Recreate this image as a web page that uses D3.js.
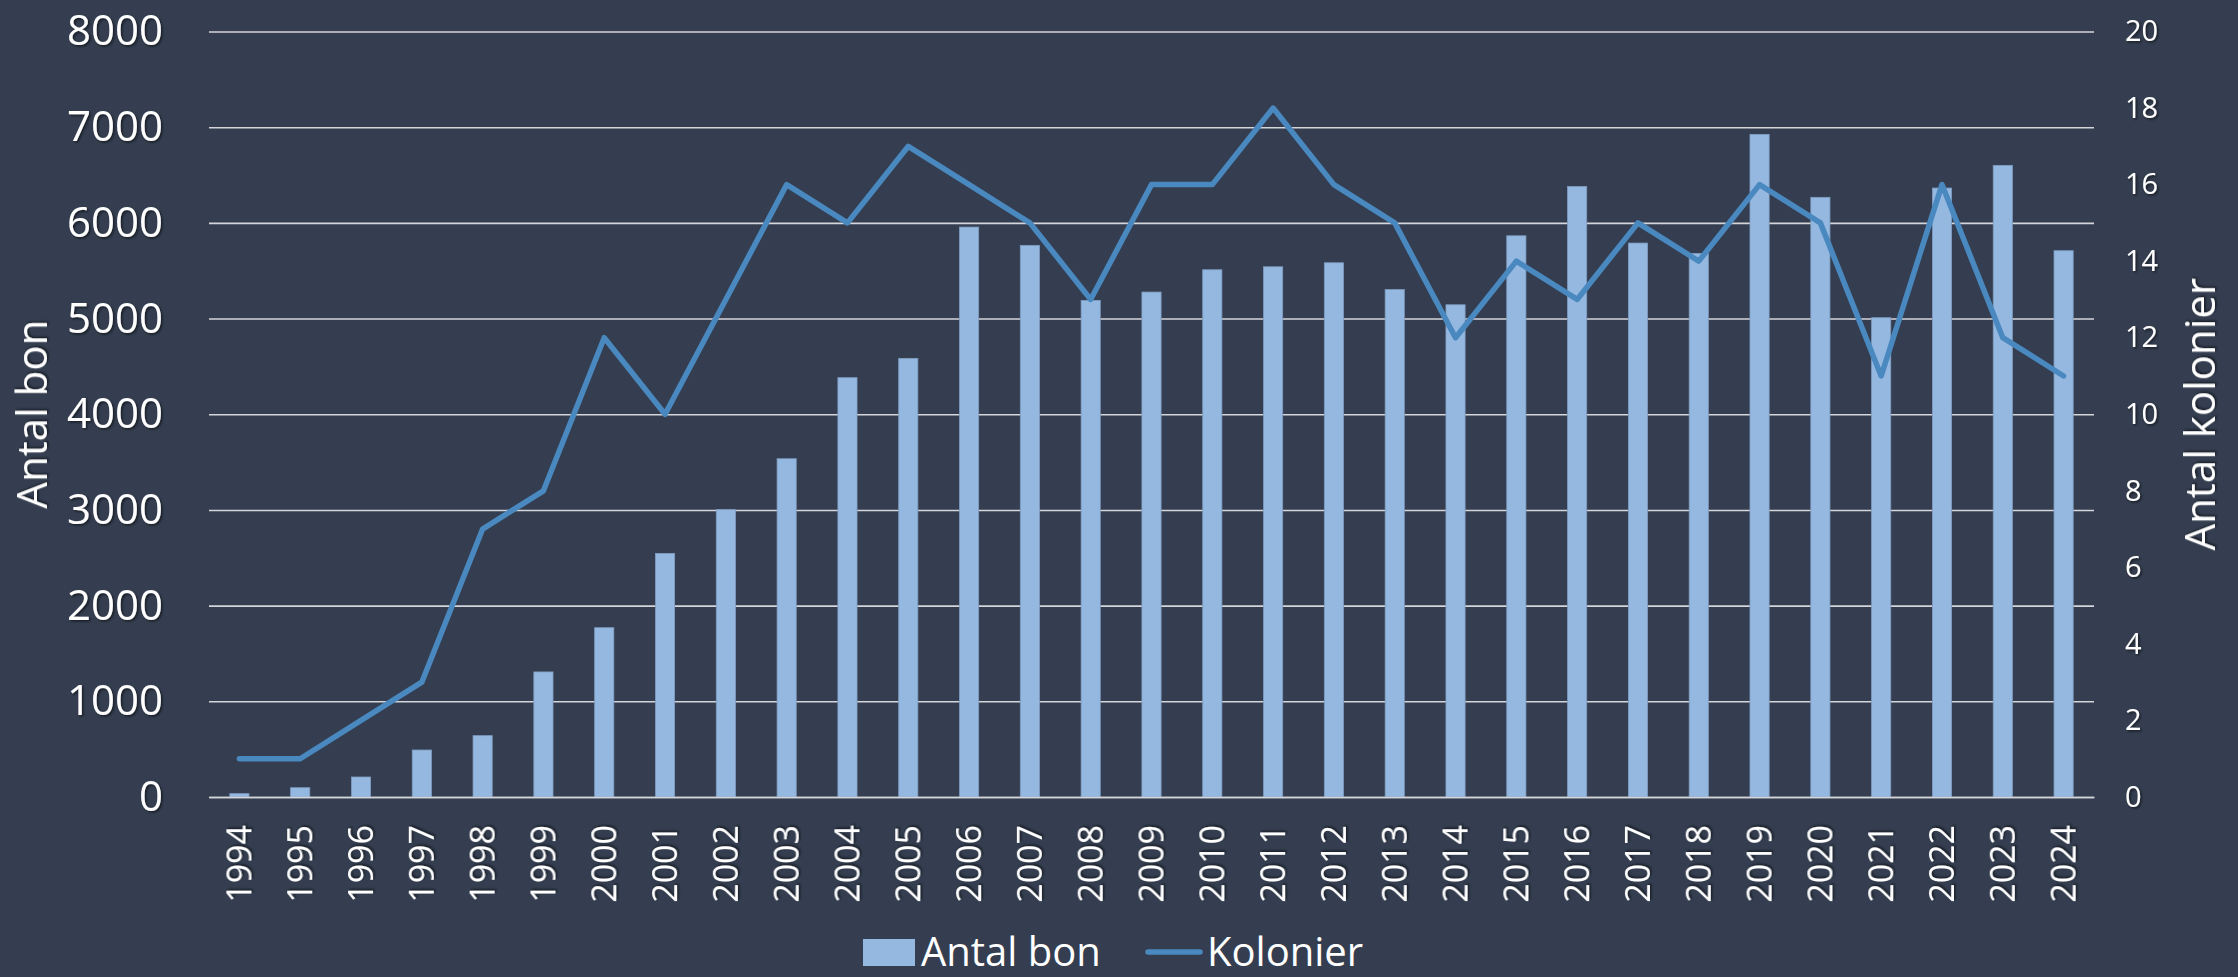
<!DOCTYPE html>
<html lang="sv">
<head>
<meta charset="utf-8">
<title>Antal bon och kolonier 1994–2024</title>
<script src="https://cdn.jsdelivr.net/npm/d3@7"></script>
<style>
  html, body { margin: 0; padding: 0; background: #343e50; }
  svg { display: block; }
  text { font-family: 'Open Sans', 'Noto Sans', sans-serif; fill: #ffffff; }
</style>
</head>
<body>
<svg id="chart"></svg>
<script>
'use strict';

// ── Data ──────────────────────────────────────────────────────────────────
const years    = ['1994','1995','1996','1997','1998','1999','2000','2001','2002','2003',
                  '2004','2005','2006','2007','2008','2009','2010','2011','2012','2013',
                  '2014','2015','2016','2017','2018','2019','2020','2021','2022','2023','2024'];
const antalBon = [35, 97, 209, 491, 641, 1307, 1769, 2546, 3003, 3535,
                  4382, 4584, 5956, 5765, 5190, 5277, 5510, 5541, 5583, 5303,
                  5144, 5865, 6381, 5789, 5681, 6925, 6267, 5009, 6364, 6601, 5709];
const kolonier = [1, 1, 2, 3, 7, 8, 12, 10, 13, 16,
                  15, 17, 16, 15, 13, 16, 16, 18, 16, 15,
                  12, 14, 13, 15, 14, 16, 15, 11, 16, 12, 11];
const leftTicks  = [0, 1000, 2000, 3000, 4000, 5000, 6000, 7000, 8000];
const rightTicks = [0, 2, 4, 6, 8, 10, 12, 14, 16, 18, 20];

(function () {
  const W = 2238, H = 977;
  const M = { left: 209, right: 2094, top: 31.5, bottom: 797 };

  const BAR_FILL  = '#95b8e0';
  const LINE_COL  = '#4a88c0';
  const GRID_COL  = '#d4d6da';

  const svg = d3.select('#chart').attr('width', W).attr('height', H);

  svg.append('rect').attr('width', W).attr('height', H).attr('fill', '#343e50');

  // soft text shadow like the office export
  const defs = svg.append('defs');
  defs.append('filter').attr('id', 'shadow')
    .attr('x', '-20%').attr('y', '-20%').attr('width', '140%').attr('height', '140%')
    .append('feDropShadow')
      .attr('dx', 1.5).attr('dy', 1.5).attr('stdDeviation', 1)
      .attr('flood-color', '#000').attr('flood-opacity', 0.55);

  // ── Scales ──────────────────────────────────────────────────────────────
  const x = d3.scaleBand().domain(years).range([M.left, M.right]).padding(0);
  const yL = d3.scaleLinear().domain([0, 8000]).range([M.bottom, M.top]);
  const yR = d3.scaleLinear().domain([0, 20]).range([M.bottom, M.top]);
  const barW = x.bandwidth() * 0.315;

  // ── Gridlines ───────────────────────────────────────────────────────────
  svg.append('g')
    .attr('transform', `translate(${M.left},0)`)
    .call(d3.axisLeft(yL).tickValues(leftTicks).tickSize(-(M.right - M.left)).tickFormat(''))
    .call(ax => ax.select('.domain').remove())
    .call(ax => ax.selectAll('line').attr('stroke', GRID_COL).attr('stroke-width', 1.6));

  // ── Bars ────────────────────────────────────────────────────────────────
  svg.append('g').selectAll('rect')
    .data(years)
    .join('rect')
      .attr('x', d => x(d) + x.bandwidth() / 2 - barW / 2)
      .attr('width', barW)
      .attr('y', (d, i) => yL(antalBon[i]))
      .attr('height', (d, i) => yL(0) - yL(antalBon[i]))
      .attr('fill', BAR_FILL)
      .attr('stroke', '#7f9dc2')
      .attr('stroke-width', 0.8);

  // ── Line ────────────────────────────────────────────────────────────────
  const line = d3.line()
    .x((d, i) => x(years[i]) + x.bandwidth() / 2)
    .y(d => yR(d));

  svg.append('path')
    .datum(kolonier)
    .attr('d', line)
    .attr('fill', 'none')
    .attr('stroke', LINE_COL)
    .attr('stroke-width', 5.5)
    .attr('stroke-linecap', 'round')
    .attr('stroke-linejoin', 'round');

  // ── Axes labels ─────────────────────────────────────────────────────────
  const leftAxis = svg.append('g')
    .attr('transform', `translate(${M.left},0)`)
    .call(d3.axisLeft(yL).tickValues(leftTicks).tickSize(0).tickPadding(46).tickFormat(d3.format('d')))
    .call(ax => ax.select('.domain').remove());
  leftAxis.selectAll('text')
    .attr('font-size', '42px').attr('font-family', null).attr('fill', '#fff')
    .attr('filter', 'url(#shadow)');

  const rightAxis = svg.append('g')
    .attr('transform', `translate(${M.right},0)`)
    .call(d3.axisRight(yR).tickValues(rightTicks).tickSize(0).tickPadding(31))
    .call(ax => ax.select('.domain').remove());
  rightAxis.selectAll('text')
    .attr('font-size', '29px').attr('font-family', null).attr('fill', '#fff')
    .attr('filter', 'url(#shadow)');

  const bottomAxis = svg.append('g')
    .attr('transform', `translate(0,${M.bottom})`)
    .call(d3.axisBottom(x).tickSize(0).tickPadding(0))
    .call(ax => ax.select('.domain')
      .attr('stroke', GRID_COL).attr('stroke-width', 1.6));
  bottomAxis.selectAll('text')
    .attr('font-size', '34px').attr('font-family', null).attr('fill', '#fff')
    .attr('text-anchor', 'end')
    .attr('dy', null)
    .attr('transform', 'translate(12,28) rotate(-90)')
    .attr('x', 0).attr('y', 0)
    .attr('filter', 'url(#shadow)');

  // ── Axis titles ─────────────────────────────────────────────────────────
  svg.append('text')
    .attr('transform', `translate(47,${(M.top + M.bottom) / 2}) rotate(-90)`)
    .attr('text-anchor', 'middle')
    .attr('font-size', '42px')
    .attr('filter', 'url(#shadow)')
    .text('Antal bon');

  svg.append('text')
    .attr('transform', `translate(2215,${(M.top + M.bottom) / 2}) rotate(-90)`)
    .attr('text-anchor', 'middle')
    .attr('font-size', '42px')
    .attr('filter', 'url(#shadow)')
    .text('Antal kolonier');

  // ── Legend ──────────────────────────────────────────────────────────────
  // kept a few px above the bottom edge so the text box is not cut
  const LEG_Y = 966;
  const lg = svg.append('g').attr('class', 'legend');
  lg.append('rect')
    .attr('x', 863).attr('y', LEG_Y - 27).attr('width', 52).attr('height', 27)
    .attr('fill', BAR_FILL);
  lg.append('text')
    .attr('x', 921).attr('y', LEG_Y)
    .attr('font-size', '40px')
    .text('Antal bon');
  lg.append('line')
    .attr('x1', 1148).attr('x2', 1200).attr('y1', LEG_Y - 14).attr('y2', LEG_Y - 14)
    .attr('stroke', LINE_COL).attr('stroke-width', 5.5).attr('stroke-linecap', 'round');
  lg.append('text')
    .attr('x', 1207).attr('y', LEG_Y)
    .attr('font-size', '40px')
    .text('Kolonier');
})();
</script>
</body>
</html>
